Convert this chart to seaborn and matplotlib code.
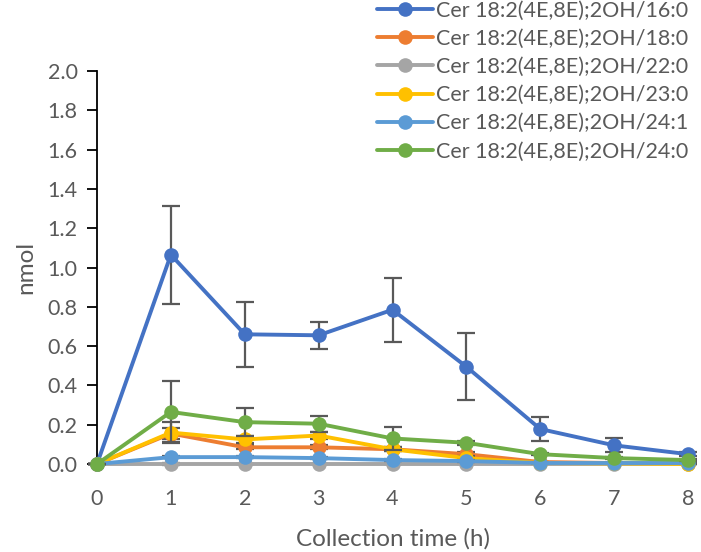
import numpy as np
import pandas as pd
import matplotlib
matplotlib.use("Agg")
import matplotlib.pyplot as plt
import seaborn as sns
from matplotlib.lines import Line2D

hours = [0, 1, 2, 3, 4, 5, 6, 7, 8]

species = [
    "Cer 18:2(4E,8E);2OH/16:0",
    "Cer 18:2(4E,8E);2OH/18:0",
    "Cer 18:2(4E,8E);2OH/22:0",
    "Cer 18:2(4E,8E);2OH/23:0",
    "Cer 18:2(4E,8E);2OH/24:1",
    "Cer 18:2(4E,8E);2OH/24:0",
]

mean_16_0 = [0.0, 1.065, 0.66, 0.655, 0.785, 0.495, 0.178, 0.095, 0.05]
sd_16_0 = [0.0, 0.25, 0.165, 0.07, 0.162, 0.17, 0.06, 0.035, 0.01]

mean_18_0 = [0.0, 0.155, 0.085, 0.085, 0.075, 0.05, 0.01, 0.005, 0.003]
sd_18_0 = [0.0, 0.03, 0.01, 0.01, 0.01, 0.01, 0.0, 0.0, 0.0]

mean_22_0 = [0.0, 0.0, 0.0, 0.0, 0.0, 0.0, 0.0, 0.0, 0.0]
sd_22_0 = [0.0, 0.004, 0.002, 0.002, 0.002, 0.002, 0.0, 0.0, 0.0]

mean_23_0 = [0.0, 0.16, 0.125, 0.145, 0.075, 0.03, 0.005, 0.003, 0.0]
sd_23_0 = [0.0, 0.055, 0.02, 0.02, 0.01, 0.01, 0.0, 0.0, 0.0]

mean_24_1 = [0.0, 0.035, 0.035, 0.03, 0.02, 0.015, 0.005, 0.005, 0.005]
sd_24_1 = [0.0, 0.005, 0.005, 0.005, 0.003, 0.003, 0.0, 0.0, 0.0]

mean_24_0 = [0.0, 0.265, 0.213, 0.205, 0.13, 0.108, 0.05, 0.03, 0.02]
sd_24_0 = [0.0, 0.155, 0.072, 0.04, 0.058, 0.01, 0.005, 0.005, 0.003]

means = [mean_16_0, mean_18_0, mean_22_0, mean_23_0, mean_24_1, mean_24_0]
sds = [sd_16_0, sd_18_0, sd_22_0, sd_23_0, sd_24_1, sd_24_0]

colors = ["#4472C4", "#ED7D31", "#A5A5A5", "#FFC000", "#5B9BD5", "#70AD47"]

font = "Lato"
text_color = "#595959"

sns.set_style("white")
plt.rcParams["font.family"] = [font, "DejaVu Sans"]

fig = plt.figure(figsize=(7.01, 5.52), dpi=100)
ax = fig.add_axes([97 / 701, 1 - 464 / 552, 591 / 701, 393 / 552])

rows = []
for name, m in zip(species, means):
    for h, v in zip(hours, m):
        rows.append({"time": h, "nmol": v, "species": name})
df = pd.DataFrame(rows)

# error bars first, then each series on top of its bars, in plotting order
for i, (m, s) in enumerate(zip(means, sds)):
    ax.errorbar(hours, m, yerr=s, fmt="none", ecolor="#595959",
                elinewidth=1.6, capsize=6.5, capthick=1.6, zorder=2 + 2 * i,
                clip_on=False)
    sub = df[df["species"] == species[i]]
    sns.lineplot(data=sub, x="time", y="nmol", ax=ax, color=colors[i],
                 linewidth=2.8, marker="o", markersize=10.5,
                 markeredgewidth=0, legend=False, zorder=3 + 2 * i,
                 clip_on=False)

ax.set_xlim(0, 8)
ax.set_ylim(0, 2.0)
ax.set_xticks(hours)
ax.set_xticklabels([str(h) for h in hours])
yt = np.round(np.arange(0, 2.01, 0.2), 1)
ax.set_yticks(yt)
ax.set_yticklabels([f"{v:.1f}" for v in yt])

for side in ["top", "right"]:
    ax.spines[side].set_visible(False)
ax.spines["left"].set_color("black")
ax.spines["left"].set_linewidth(1.3)
ax.spines["bottom"].set_color("#D9D9D9")
ax.spines["bottom"].set_linewidth(1.0)

ax.tick_params(axis="y", direction="out", length=7, width=1.3, color="black",
               labelsize=15.5, labelcolor=text_color, pad=7, left=True)
ax.tick_params(axis="x", length=0, labelsize=15.5, labelcolor=text_color,
               pad=18)

ax.set_xlabel("Collection time (h)", fontsize=17.5, color=text_color,
              labelpad=14)
ax.set_ylabel("nmol", fontsize=17.5, color=text_color, labelpad=8)

handles = [Line2D([0], [0], color=c, linewidth=2.8, marker="o",
                  markersize=10.5, markeredgewidth=0) for c in colors]
leg = fig.legend(handles, species, loc="upper left",
                 bbox_to_anchor=(368 / 701, 1 + 8 / 552), frameon=False,
                 fontsize=15.5, handlelength=2.6, handletextpad=0.15,
                 labelspacing=0.38, borderaxespad=0)
for t in leg.get_texts():
    t.set_color(text_color)

fig.savefig("out.png", dpi=100)
